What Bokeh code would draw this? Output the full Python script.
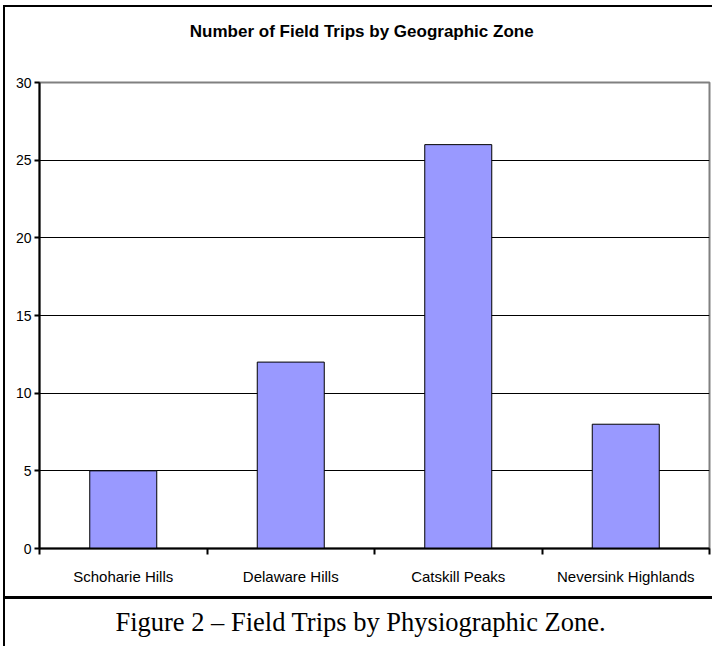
from bokeh.plotting import figure
from bokeh.layouts import column
from bokeh.models import Range1d, FixedTicker, ColumnDataSource, Label
from bokeh.embed import file_html
from bokeh.resources import INLINE

categories = ["Schoharie Hills", "Delaware Hills", "Catskill Peaks", "Neversink Highlands"]
trips = [5, 12, 26, 8]
y_ticks = [0, 5, 10, 15, 20, 25, 30]
title_text = "Number of Field Trips by Geographic Zone"
caption_text = "Figure 2 \u2013 Field Trips by Physiographic Zone."

centers = [i + 0.5 for i in range(len(categories))]
bounds = list(range(len(categories) + 1))

src = ColumnDataSource(dict(x=centers, top=trips, cat=categories))


def text_strip(height, border_top):
    f = figure(width=709, height=height, output_backend="svg", toolbar_location=None,
               x_range=Range1d(0, 707), y_range=Range1d(0, height),
               min_border=0, min_border_left=0, min_border_right=0,
               min_border_top=0, min_border_bottom=0)
    f.styles = {"border-left": "2px solid black", "border-top": border_top}
    f.axis.visible = False
    f.grid.visible = False
    f.outline_line_color = None
    return f


tfig = text_strip(40, "2px solid black")
tfig.add_layout(Label(x=340, y=16, text=title_text, text_align="center",
                      text_baseline="alphabetic", text_font="Liberation Sans",
                      text_font_size="17px", text_font_style="bold", text_color="black"))

p = figure(width=709, height=551, output_backend="svg", toolbar_location=None,
           x_range=Range1d(0, len(categories)), y_range=Range1d(0, 30),
           min_border_left=34, min_border_right=5, min_border_top=37, min_border_bottom=48)
p.styles = {"border-left": "2px solid black"}

p.vbar(x="x", top="top", width=0.4, bottom=0, source=src,
       fill_color="#9999FF", line_color="black", line_width=1)

p.outline_line_color = "#808080"
p.outline_line_width = 2

# y axis
p.yaxis.ticker = FixedTicker(ticks=y_ticks)
p.yaxis.axis_line_width = 2
p.yaxis.axis_line_color = "black"
p.yaxis.major_tick_in = 0
p.yaxis.major_tick_out = 5
p.yaxis.major_tick_line_width = 2
p.yaxis.minor_tick_line_color = None
p.yaxis.major_label_text_font = "Liberation Sans"
p.yaxis.major_label_text_font_size = "14px"
p.yaxis.major_label_text_color = "black"
p.yaxis.major_label_standoff = 3

# x axis
p.xaxis.ticker = FixedTicker(ticks=centers, minor_ticks=bounds)
p.xaxis.major_label_overrides = {c: lab for c, lab in zip(centers, categories)}
p.xaxis.axis_line_width = 2
p.xaxis.axis_line_color = "black"
p.xaxis.major_tick_in = 0
p.xaxis.major_tick_out = 0
p.xaxis.minor_tick_in = 0
p.xaxis.minor_tick_out = 6
p.xaxis.minor_tick_line_width = 2
p.xaxis.minor_tick_line_color = "black"
p.xaxis.major_label_text_font = "Liberation Sans"
p.xaxis.major_label_text_font_size = "15px"
p.xaxis.major_label_text_color = "black"
p.xaxis.major_label_standoff = 13

p.xgrid.grid_line_color = None
p.ygrid.ticker = FixedTicker(ticks=[t for t in y_ticks if 0 < t < 30])
p.ygrid.grid_line_color = "black"
p.ygrid.grid_line_width = 1

cap = text_strip(50, "3px solid black")
cap.add_layout(Label(x=339, y=28, text=caption_text, text_align="center",
                     text_baseline="alphabetic", text_font="Liberation Serif",
                     text_font_size="26.5px", text_color="black"))

layout = column(tfig, p, cap, spacing=0, margin=(5, 0, 0, 3))
open("out.html", "w").write(file_html(layout, INLINE))
